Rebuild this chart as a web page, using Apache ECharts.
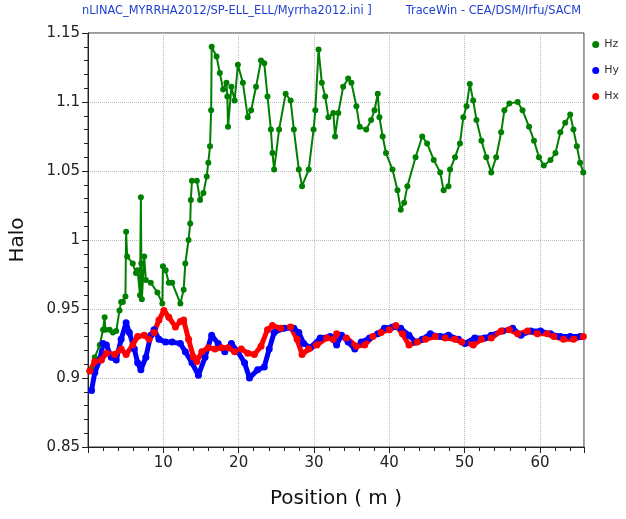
<!DOCTYPE html>
<html>
<head>
<meta charset="utf-8">
<script src="https://cdn.jsdelivr.net/npm/echarts@6/dist/echarts.min.js"></script>
<style>html,body{margin:0;padding:0;background:#fff}#c{width:626px;height:519px}</style>
</head>
<body>
<div id="c"></div>
<script>
const headerLeft = 'nLINAC_MYRRHA2012/SP-ELL_ELL/Myrrha2012.ini ]';
const headerRight = 'TraceWin - CEA/DSM/Irfu/SACM';
const seriesNames = ['Hz', 'Hy', 'Hx'];
const xTicks = [10, 20, 30, 40, 50, 60];
const yTicks = [0.85, 0.9, 0.95, 1, 1.05, 1.1, 1.15];

const hzPos = [0.2,0.47,0.9,1.56,2.0,2.21,2.3,2.87,3.3,3.75,4.18,4.40,4.63,4.97,5.06,5.2,5.94,6.37,6.59,6.9,7.02,7.08,7.15,7.46,7.68,8.33,9.21,9.87,9.95,10.30,10.73,11.18,12.26,12.70,12.92,13.35,13.57,13.65,13.80,14.45,14.88,15.32,15.76,15.97,16.20,16.35,16.42,17.07,17.50,17.94,18.38,18.50,18.59,19.04,19.47,19.90,20.56,21.21,21.66,22.31,22.97,23.40,23.83,24.28,24.49,24.71,25.37,26.24,26.90,27.33,27.99,28.42,29.30,29.95,30.18,30.61,31.04,31.49,31.92,32.57,32.80,33.23,33.88,34.54,34.97,35.63,36.07,36.94,37.59,38.04,38.47,38.69,39.12,39.56,40.43,41.09,41.52,41.97,42.40,43.49,44.37,45.02,45.90,46.76,47.21,47.86,48.07,48.73,49.38,49.83,50.26,50.69,51.14,51.57,52.23,52.88,53.54,54.19,54.85,55.28,55.94,57.04,57.69,58.56,59.21,59.87,60.52,61.40,62.06,62.71,63.36,64.02,64.45,64.90,65.33,65.76];
const hzVal = [0.905,0.906,0.915,0.924,0.935,0.944,0.935,0.935,0.933,0.934,0.949,0.955,0.955,0.959,1.006,0.988,0.983,0.976,0.978,0.960,1.031,0.983,0.957,0.988,0.971,0.969,0.962,0.954,0.981,0.978,0.969,0.969,0.954,0.964,0.983,1.000,1.012,1.029,1.043,1.043,1.029,1.034,1.046,1.056,1.068,1.094,1.140,1.133,1.121,1.109,1.114,1.104,1.082,1.111,1.101,1.127,1.114,1.089,1.094,1.111,1.130,1.128,1.104,1.080,1.063,1.051,1.080,1.106,1.101,1.080,1.051,1.039,1.051,1.080,1.094,1.138,1.114,1.104,1.089,1.092,1.075,1.092,1.111,1.117,1.114,1.097,1.082,1.080,1.087,1.094,1.106,1.089,1.075,1.063,1.051,1.036,1.022,1.027,1.039,1.060,1.075,1.070,1.058,1.049,1.036,1.039,1.051,1.060,1.070,1.089,1.097,1.113,1.101,1.087,1.072,1.060,1.049,1.060,1.078,1.094,1.099,1.100,1.094,1.082,1.072,1.060,1.054,1.058,1.063,1.078,1.085,1.091,1.080,1.068,1.056,1.049];

const hyPos = [0.47,0.9,1.56,2.0,2.44,3.09,3.75,4.40,5.06,5.49,6.15,6.59,7.02,7.68,8.33,8.77,9.42,10.30,11.18,12.26,12.92,13.80,14.66,15.54,16.42,17.28,18.16,19.04,19.90,20.78,21.44,22.52,23.40,24.06,24.71,26.02,27.33,27.99,28.64,29.52,30.83,32.14,32.57,33.01,33.66,34.54,35.42,36.28,37.38,38.47,39.35,40.43,41.52,42.62,43.49,44.37,45.45,46.76,47.86,49.18,50.04,51.35,52.66,53.54,55.07,56.38,57.47,58.78,60.09,61.40,62.71,64.02,65.33];
const hyVal = [0.891,0.904,0.913,0.925,0.924,0.915,0.913,0.928,0.940,0.933,0.921,0.911,0.906,0.915,0.931,0.935,0.928,0.926,0.926,0.925,0.919,0.911,0.902,0.915,0.931,0.925,0.919,0.925,0.919,0.911,0.900,0.906,0.908,0.921,0.933,0.936,0.936,0.933,0.925,0.922,0.929,0.930,0.928,0.924,0.931,0.926,0.921,0.926,0.929,0.932,0.936,0.937,0.936,0.931,0.926,0.928,0.932,0.930,0.931,0.928,0.925,0.929,0.929,0.931,0.934,0.936,0.931,0.934,0.934,0.932,0.930,0.930,0.930];

const hxPos = [0.25,0.9,1.78,2.44,3.52,4.40,5.06,5.94,6.59,7.46,8.11,8.77,9.42,10.08,10.73,11.61,12.26,12.70,13.35,14.01,14.45,15.11,15.97,16.85,17.73,18.59,19.47,20.35,21.21,22.09,22.97,23.83,24.49,25.59,26.90,27.76,28.42,29.30,30.39,31.70,32.57,33.01,34.32,35.63,36.73,37.81,38.90,40.00,40.87,41.74,42.62,43.71,44.80,46.11,47.42,48.73,49.61,51.14,52.23,53.54,54.85,55.94,57.04,58.35,59.66,60.97,61.84,63.14,64.45,65.76];
const hxVal = [0.905,0.912,0.913,0.918,0.917,0.921,0.917,0.924,0.930,0.931,0.928,0.933,0.942,0.949,0.944,0.937,0.941,0.942,0.928,0.915,0.912,0.919,0.922,0.921,0.922,0.922,0.919,0.921,0.918,0.917,0.923,0.935,0.938,0.936,0.937,0.928,0.917,0.921,0.924,0.929,0.928,0.932,0.929,0.923,0.924,0.930,0.933,0.935,0.938,0.932,0.924,0.926,0.928,0.930,0.929,0.928,0.926,0.924,0.928,0.929,0.934,0.935,0.932,0.934,0.932,0.932,0.930,0.928,0.928,0.930];

function zip(a, b) { return a.map((x, i) => [x, b[i]]); }
const FONT = 'DejaVu Sans';
const chart = echarts.init(document.getElementById('c'), null, {renderer: 'canvas'});
function mk(name, pos, val, color, lw, sz) {
  return {
    name: name, type: 'line', data: zip(pos, val),
    symbol: 'circle', symbolSize: sz, showSymbol: true,
    lineStyle: {color: color, width: lw},
    itemStyle: {color: color, borderWidth: 0},
    animation: false
  };
}
chart.setOption({
  backgroundColor: '#fff',
  animation: false,
  graphic: [
    {type: 'text', left: 82, top: 6, style: {text: headerLeft, fill: '#1f3fd0', font: '11.4px "' + FONT + '"'}},
    {type: 'text', right: 45, top: 6, style: {text: headerRight, fill: '#1f3fd0', font: '11.4px "' + FONT + '"'}}
  ],
  legend: {
    orient: 'vertical', right: 2, top: 34, itemGap: 15,
    icon: 'circle', itemWidth: 7, itemHeight: 7,
    textStyle: {fontFamily: FONT, fontSize: 11, color: '#333'},
    data: seriesNames
  },
  grid: {left: 81, right: 42, top: 33, bottom: 72, show: true, borderColor: '#333', borderWidth: 1},
  xAxis: {
    type: 'value', min: 0, max: 65.85, interval: 10,
    name: 'Position ( m )', nameLocation: 'middle', nameGap: 42,
    nameTextStyle: {fontFamily: FONT, fontSize: 20, color: '#111'},
    axisLine: {lineStyle: {color: '#222'}},
    axisTick: {show: true, length: 6, lineStyle: {color: '#222'}},
    minorTick: {show: true, splitNumber: 5, length: 4, lineStyle: {color: '#222'}},
    axisLabel: {fontFamily: FONT, fontSize: 15, color: '#222', margin: 9,
      formatter: v => (xTicks.indexOf(v) >= 0 ? String(v) : '')},
    splitLine: {show: true, lineStyle: {color: '#bbb', type: 'dotted'}}
  },
  yAxis: {
    type: 'value', min: 0.85, max: 1.15, interval: 0.05,
    name: 'Halo', nameLocation: 'middle', nameGap: 60, nameRotate: 90,
    nameTextStyle: {fontFamily: FONT, fontSize: 20, color: '#111'},
    axisLine: {show: true, lineStyle: {color: '#222'}},
    axisTick: {show: true, length: 6, lineStyle: {color: '#222'}},
    minorTick: {show: true, splitNumber: 5, length: 4, lineStyle: {color: '#222'}},
    axisLabel: {fontFamily: FONT, fontSize: 15, color: '#222', margin: 8,
      formatter: v => { const r = Math.round(v * 100) / 100; return yTicks.indexOf(r) >= 0 ? String(r) : ''; }},
    splitLine: {show: true, lineStyle: {color: '#bbb', type: 'dotted'}}
  },
  series: [
    mk('Hz', hzPos, hzVal, '#008000', 2, 6),
    mk('Hy', hyPos, hyVal, '#0000ff', 5, 7),
    mk('Hx', hxPos, hxVal, '#ff0000', 5, 7)
  ]
});
</script>
</body>
</html>
